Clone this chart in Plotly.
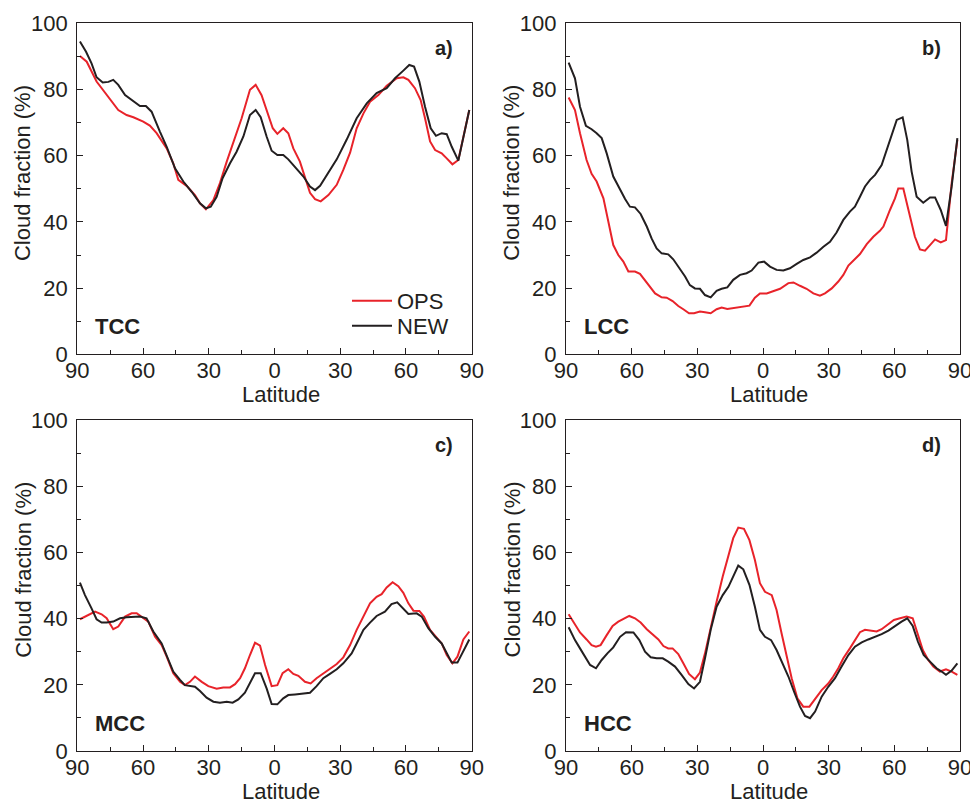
import plotly.graph_objects as go

# ---------------- data ----------------
# Panel a) TCC
tcc_ops_lat = [-88.8, -85.7, -81.2, -78.1, -75.8, -71.3, -67.5, -64.4, -59.9, -56.9, -53.8, -49.2, -46.2, -43.9,
               -40.1, -36.3, -34.0, -31.3, -27.9, -24.9, -21.8, -18.8, -15.0, -11.2, -8.6, -5.9, -3.6, -0.8, 1.3,
               4.0, 6.3, 8.6, 11.6, 13.9, 16.2, 18.5, 21.1, 24.6, 28.4, 31.4, 34.5, 37.5, 40.6, 43.6, 47.4, 51.2,
               55.8, 58.8, 61.1, 64.1, 66.7, 68.7, 71.0, 73.3, 76.3, 78.6, 81.2, 83.9, 88.9]
tcc_ops = [90.1, 88.4, 82.4, 79.7, 77.8, 73.8, 72.3, 71.6, 70.3, 69.1, 66.8, 62.2, 57.7, 52.7,
           50.9, 48.1, 45.6, 43.8, 46.6, 51.7, 58.2, 63.7, 71.3, 79.9, 81.4, 78.3, 73.8, 68.3, 66.6,
           68.3, 66.8, 62.2, 58.2, 53.7, 48.8, 46.9, 46.2, 48.1, 51.2, 55.7, 60.9, 68.3, 72.8, 76.3, 78.3, 81.1,
           83.4, 83.7, 82.9, 80.4, 76.8, 71.3, 64.3, 61.7, 60.7, 59.2, 57.4, 58.7, 73.8]
tcc_new_lat = [-88.8, -86.0, -83.5, -81.2, -78.4, -75.8, -73.6, -71.3, -68.2, -64.4, -61.4, -58.7, -56.1, -52.3,
               -49.2, -45.4, -41.6, -37.8, -34.0, -31.3, -29.1, -26.4, -23.7, -20.3, -17.3, -14.2, -11.2, -8.6,
               -6.3, -3.6, -1.3, 1.3, 4.0, 6.3, 9.4, 13.2, 16.2, 18.5, 20.8, 24.6, 28.4, 32.9, 37.5, 42.1, 46.6,
               51.2, 55.0, 58.8, 61.5, 63.7, 66.1, 68.7, 71.3, 73.7, 76.3, 78.6, 80.9, 83.9, 88.9]
tcc_new = [94.5, 91.4, 87.9, 83.7, 82.1, 82.3, 82.9, 81.4, 78.3, 76.6, 75.0, 75.0, 73.3, 67.3,
           62.7, 56.2, 52.2, 49.1, 45.6, 44.1, 44.6, 47.6, 53.2, 57.7, 61.2, 65.8, 72.3, 73.8,
           71.6, 65.8, 61.5, 60.2, 60.2, 58.9, 56.7, 53.7, 50.7, 49.6, 50.9, 54.7, 58.9, 64.8, 71.3, 75.8, 78.9,
           80.4, 83.4, 85.7, 87.4, 86.9, 82.4, 74.8, 68.3, 66.0, 66.8, 66.5, 62.7, 58.5, 73.8]

# Panel b) LCC
lcc_ops_lat = [-88.8, -85.9, -83.6, -80.6, -78.3, -76.0, -72.9, -70.7, -68.4, -66.1, -63.8, -61.5, -58.5, -56.2,
               -53.1, -49.3, -46.3, -44.0, -41.3, -38.7, -36.4, -33.8, -31.5, -28.8, -26.5, -23.9, -21.2, -18.9,
               -16.3, -12.8, -9.0, -6.2, -3.7, -1.4, 1.7, 4.7, 7.8, 11.6, 13.9, 16.9, 19.9, 23.0, 26.0, 28.3, 31.4,
               34.4, 36.7, 39.0, 42.0, 44.3, 47.4, 50.4, 53.4, 55.0, 58.0, 60.3, 61.8, 64.1, 65.9, 67.5, 69.4,
               71.7, 74.0, 76.3, 78.6, 81.2, 83.6, 86.2, 88.8]
lcc_ops = [77.6, 73.8, 66.8, 58.7, 54.5, 52.2, 47.1, 40.1, 33.0, 30.0, 28.0, 25.0, 25.0, 24.3,
           21.7, 18.4, 17.2, 17.1, 16.1, 14.6, 13.6, 12.4, 12.4, 12.9, 12.7, 12.4, 13.6, 14.1,
           13.7, 14.1, 14.4, 14.7, 17.1, 18.4, 18.4, 19.1, 19.8, 21.5, 21.7, 20.7, 19.8, 18.4, 17.7, 18.4, 19.9,
           22.0, 24.0, 26.8, 28.7, 30.3, 33.3, 35.5, 37.3, 38.6, 43.6, 47.1, 50.1, 50.1, 45.1, 40.6, 35.5,
           31.7, 31.3, 33.0, 34.7, 33.8, 34.5, 51.7, 64.8]
lcc_new_lat = [-88.8, -85.9, -83.6, -80.9, -78.3, -76.0, -73.7, -71.4, -68.4, -65.3, -63.0, -60.8, -58.5, -55.9,
               -53.1, -50.9, -48.6, -46.3, -43.3, -41.0, -37.9, -35.6, -33.4, -31.1, -28.8, -26.5, -23.9, -21.2,
               -18.9, -16.3, -13.6, -10.5, -7.5, -5.2, -2.1, 0.5, 3.2, 6.2, 9.3, 12.3, 15.4, 18.4, 21.5, 24.5,
               27.6, 30.6, 33.6, 36.7, 39.7, 42.0, 44.3, 46.6, 48.9, 51.2, 54.2, 56.5, 58.8, 61.1, 63.8, 65.9,
               67.9, 70.2, 73.2, 76.3, 78.6, 81.2, 83.6, 86.2, 88.8]
lcc_new = [88.1, 83.4, 74.8, 69.0, 68.0, 66.8, 65.3, 60.7, 53.7, 49.6, 46.9, 44.6, 44.4, 42.4,
           38.6, 35.0, 32.0, 30.5, 30.2, 28.7, 25.7, 23.5, 20.9, 19.9, 19.8, 17.9, 17.2, 19.2,
           19.8, 20.2, 22.5, 24.0, 24.5, 25.3, 27.7, 28.0, 26.5, 25.5, 25.3, 26.0, 27.3, 28.5, 29.3, 30.7,
           32.5, 34.0, 36.8, 40.6, 43.1, 44.6, 47.6, 50.7, 52.7, 54.2, 57.2, 61.7, 66.3, 70.8, 71.6, 64.8,
           55.2, 47.6, 45.8, 47.4, 47.4, 43.6, 38.8, 50.7, 65.3]

# Panel c) MCC
mcc_ops_lat = [-88.8, -85.7, -81.9, -78.9, -76.6, -73.6, -71.3, -68.2, -65.2, -62.9, -60.6, -57.6, -54.5, -51.5,
               -49.2, -46.2, -43.1, -40.9, -38.6, -36.3, -33.2, -30.2, -26.4, -23.4, -20.3, -18.0, -15.7, -13.5,
               -11.2, -8.9, -6.6, -4.3, -1.3, 1.3, 3.7, 6.3, 8.6, 10.9, 13.9, 16.5, 19.2, 22.3, 25.3, 28.4, 31.4,
               34.5, 37.5, 40.6, 43.6, 46.6, 48.9, 51.2, 53.9, 56.5, 58.8, 61.1, 63.4, 66.1, 68.2, 71.0, 74.0,
               76.3, 78.6, 81.2, 83.5, 86.2, 88.9]
mcc_ops = [39.8, 40.8, 42.1, 41.3, 40.1, 36.8, 37.6, 40.6, 41.6, 41.6, 40.4, 39.1, 34.5, 32.0,
           28.5, 23.5, 20.9, 19.9, 20.9, 22.5, 20.9, 19.6, 18.8, 19.2, 19.2, 20.2, 22.0, 25.0,
           29.0, 32.7, 31.8, 26.0, 19.6, 19.9, 23.5, 24.7, 23.3, 22.7, 20.9, 20.4, 22.0, 23.5, 25.0, 26.3, 28.3,
           32.0, 36.6, 40.6, 44.6, 46.6, 47.4, 49.4, 51.0, 49.8, 47.8, 44.6, 42.4, 42.3, 40.6, 36.6, 34.3,
           32.5, 29.0, 26.5, 28.5, 33.7, 36.1]
mcc_new_lat = [-88.8, -86.5, -83.5, -81.2, -78.9, -76.6, -73.6, -70.5, -67.5, -64.4, -61.4, -58.4, -55.3, -51.5,
               -48.5, -46.2, -43.1, -40.9, -36.3, -34.0, -31.0, -27.9, -24.9, -21.8, -19.1, -16.5, -13.5, -10.9,
               -8.9, -6.3, -3.6, -1.3, 1.3, 4.0, 6.3, 9.4, 12.4, 16.2, 19.2, 22.3, 25.3, 28.4, 31.4, 35.2, 37.5,
               40.6, 43.6, 46.6, 50.4, 53.4, 56.0, 58.8, 61.1, 64.9, 67.2, 70.2, 73.3, 76.3, 78.6, 80.9, 83.5,
               86.2, 88.9]
mcc_new = [50.9, 47.1, 43.1, 39.8, 38.8, 38.8, 39.1, 40.1, 40.4, 40.6, 40.6, 40.1, 36.1, 32.5,
           27.5, 24.0, 21.5, 19.9, 19.4, 18.1, 16.1, 14.9, 14.6, 14.9, 14.6, 15.6, 17.6, 20.9,
           23.5, 23.5, 18.9, 14.2, 14.1, 15.9, 16.9, 17.1, 17.4, 17.6, 19.6, 22.0, 23.3, 24.7, 26.5, 29.5, 32.5,
           36.6, 38.8, 40.8, 42.1, 44.4, 44.9, 43.1, 41.4, 41.6, 40.6, 37.1, 34.5, 32.5, 29.7, 26.7, 26.7,
           30.3, 33.7]

# Panel d) HCC
hcc_ops_lat = [-88.8, -85.9, -83.6, -80.6, -78.3, -76.3, -74.2, -71.4, -68.7, -66.1, -63.8, -61.1, -58.5, -55.9,
               -53.1, -50.1, -47.8, -45.5, -43.3, -41.3, -38.7, -36.4, -33.8, -31.1, -28.8, -26.5, -23.9, -21.2,
               -18.4, -15.8, -13.6, -11.3, -8.7, -6.2, -3.7, -1.4, 0.9, 4.0, 6.2, 8.5, 10.8, 13.1, 15.7, 18.4,
               21.2, 23.8, 26.8, 29.8, 32.1, 34.4, 36.7, 39.7, 42.0, 44.3, 46.6, 48.9, 51.9, 54.2, 57.3, 59.8,
               62.6, 65.6, 68.4, 70.5, 73.0, 75.5, 77.8, 80.8, 83.6, 86.2, 88.8]
hcc_ops = [41.3, 38.1, 35.8, 33.7, 32.0, 31.5, 32.0, 35.0, 37.8, 39.1, 39.9, 40.8, 40.1, 38.8,
           36.8, 35.0, 33.7, 31.7, 31.0, 31.0, 29.3, 26.5, 23.3, 21.7, 23.7, 29.5, 37.6, 45.1,
           52.7, 58.7, 64.3, 67.5, 67.1, 63.7, 57.7, 50.7, 48.1, 47.1, 42.6, 35.5, 28.5, 22.0, 15.9, 13.4,
           13.4, 15.6, 18.4, 20.4, 22.5, 25.0, 28.0, 31.0, 33.5, 35.9, 36.6, 36.3, 36.1, 36.8, 38.4, 39.6,
           40.1, 40.6, 40.1, 35.5, 30.5, 27.5, 25.5, 24.0, 24.7, 24.0, 23.0]
hcc_new_lat = [-88.8, -85.9, -83.6, -81.3, -79.0, -76.3, -73.7, -71.1, -68.4, -65.3, -62.6, -59.2, -56.5, -53.9,
               -51.3, -48.6, -45.8, -43.3, -40.2, -37.2, -34.1, -31.5, -28.8, -26.5, -23.9, -21.2, -18.4, -15.8,
               -13.6, -11.3, -9.0, -6.2, -3.7, -1.4, 0.9, 3.7, 6.2, 9.0, 11.6, 14.2, 16.9, 19.2, 21.5, 23.8,
               26.8, 29.8, 32.9, 35.9, 39.0, 42.0, 45.1, 48.1, 51.2, 54.2, 57.3, 60.3, 63.3, 65.9, 68.4, 70.8,
               73.4, 76.3, 79.3, 81.6, 83.6, 86.2, 88.8]
hcc_new = [37.4, 33.5, 31.0, 28.5, 26.0, 25.0, 27.5, 29.5, 31.3, 34.5, 35.9, 35.8, 33.5, 30.0,
           28.3, 28.0, 28.0, 27.0, 25.5, 23.0, 20.2, 18.9, 20.9, 28.0, 36.6, 43.6, 47.1, 49.6,
           52.7, 56.0, 54.9, 50.2, 43.6, 36.6, 34.5, 33.5, 30.5, 26.5, 22.5, 17.9, 13.4, 10.6, 9.9, 11.9,
           16.4, 19.4, 22.0, 25.5, 29.0, 31.5, 32.8, 33.7, 34.5, 35.3, 36.4, 37.8, 39.1, 40.1, 37.8, 33.0,
           29.0, 27.0, 25.0, 24.0, 23.0, 24.3, 26.5]

panel_names = ["TCC", "LCC", "MCC", "HCC"]
panel_tags = ["a)", "b)", "c)", "d)"]
series_names = ["OPS", "NEW"]
x_tick_vals = [-90, -60, -30, 0, 30, 60, 90]
x_tick_text = ["90", "60", "30", "0", "30", "60", "90"]
y_tick_vals = [0, 20, 40, 60, 80, 100]
x_title = "Latitude"
y_title = "Cloud fraction (%)"

panels = [
    (tcc_ops_lat, tcc_ops, tcc_new_lat, tcc_new),
    (lcc_ops_lat, lcc_ops, lcc_new_lat, lcc_new),
    (mcc_ops_lat, mcc_ops, mcc_new_lat, mcc_new),
    (hcc_ops_lat, hcc_ops, hcc_new_lat, hcc_new),
]

# ---------------- style ----------------
W, H = 970, 801
RED = "#e8232a"
BLACK = "#231f20"
TXT = "#231f20"
FONT = "Liberation Sans, Arial, sans-serif"

# pixel boxes of plot areas (left, right, top, bottom)
boxes = [(77.3, 471.7, 23.3, 354.3), (566, 960, 23.3, 354.3),
         (77.3, 471.7, 420, 751), (566, 960, 420, 751)]

legend_style = dict(xanchor="left", yanchor="top", bgcolor="rgba(0,0,0,0)",
                    font=dict(size=22, color=TXT), itemwidth=40)

fig = go.Figure()
layout = dict(
    width=W, height=H, margin=dict(l=0, r=0, t=0, b=0, autoexpand=False),
    paper_bgcolor="white", plot_bgcolor="white",
    font=dict(family=FONT, size=22, color=TXT),
    showlegend=True,
    legend=dict(legend_style, x=347 / W, y=1 - 280 / H),
    legend2=dict(legend_style, x=347 / W, y=1 - 305 / H),
)
annotations = []

for i, (ol, ov, nl, nv) in enumerate(panels):
    k = "" if i == 0 else str(i + 1)
    xa, ya = "x" + k, "y" + k
    fig.add_trace(go.Scatter(x=ol, y=ov, mode="lines", name=series_names[0],
                             line=dict(color=RED, width=2), xaxis=xa, yaxis=ya,
                             showlegend=(i == 0), legend="legend"))
    fig.add_trace(go.Scatter(x=nl, y=nv, mode="lines", name=series_names[1],
                             line=dict(color=BLACK, width=2), xaxis=xa, yaxis=ya,
                             showlegend=(i == 0), legend="legend2"))
    L, R, T, B = boxes[i]
    common = dict(showline=True, linecolor=BLACK, linewidth=1.3, mirror=True,
                  ticks="inside", tickcolor=BLACK, tickwidth=1.3, ticklen=6,
                  showgrid=False, zeroline=False, automargin=False,
                  ticklabeloverflow="allow",
                  tickfont=dict(size=22, color=TXT, family=FONT))
    layout["xaxis" + k] = dict(common, domain=[L / W, R / W], range=[-90, 90],
                               tickvals=x_tick_vals, ticktext=x_tick_text,
                               minor=dict(dtick=15, tick0=-90, ticks="inside", ticklen=4,
                                          tickcolor=BLACK, tickwidth=1.3),
                               anchor=ya, ticklabelstandoff=-4)
    layout["yaxis" + k] = dict(common, domain=[1 - B / H, 1 - T / H], range=[0, 100],
                               tickvals=y_tick_vals,
                               minor=dict(dtick=10, tick0=0, ticks="inside", ticklen=4,
                                          tickcolor=BLACK, tickwidth=1.3),
                               anchor=xa, ticklabelstandoff=4)
    # axis titles
    annotations.append(dict(text=x_title, xref="paper", yref="paper",
                            x=(L + R) / 2 / W + 6 / W, y=1 - (B + 40) / H,
                            xanchor="center", yanchor="middle", showarrow=False,
                            font=dict(size=22, color=TXT)))
    annotations.append(dict(text=y_title, xref="paper", yref="paper",
                            x=(L - 54) / W, y=1 - ((T + B) / 2 - 16) / H,
                            xanchor="center", yanchor="middle", textangle=-90, showarrow=False,
                            font=dict(size=22, color=TXT)))
    # panel name and tag
    annotations.append(dict(text="<b>%s</b>" % panel_names[i], xref="paper", yref="paper",
                            x=(L + 16) / W, y=1 - (B - 28) / H,
                            xanchor="left", yanchor="middle", showarrow=False,
                            font=dict(size=22, color=TXT)))
    annotations.append(dict(text="<b>%s</b>" % panel_tags[i], xref="paper", yref="paper",
                            x=(R - 17) / W, y=1 - (T + 25) / H,
                            xanchor="right", yanchor="middle", showarrow=False,
                            font=dict(size=20, color=TXT,
                                      family="Liberation Sans Narrow, Arial Narrow, Liberation Sans, Arial")))

layout["annotations"] = annotations
fig.update_layout(**layout)
fig.write_html("out.html")
